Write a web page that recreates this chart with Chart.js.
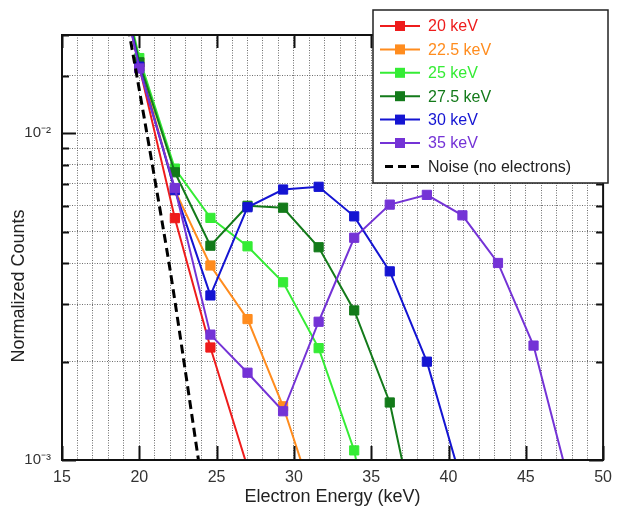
<!DOCTYPE html>
<html>
<head>
<meta charset="utf-8">
<script src="https://cdn.jsdelivr.net/npm/chart.js@4.4.1/dist/chart.umd.min.js"></script>
<style>
  html, body { margin: 0; padding: 0; background: #fff; }
  canvas { display: block; }
</style>
</head>
<body>
<canvas id="spectrumGraph" width="620" height="509"></canvas>
<script>
// Energy bins (keV); first and last bins fall outside the plotted window
const energies = [17.7, 20, 22.3, 24.6, 27.0, 29.3, 31.6, 33.9, 36.2, 38.6, 40.9, 43.2, 45.5, 47.8];

// Normalized counts per beam energy
const counts20 = [0.05, 0.0160, 0.0055, 0.00221, 0.00095];
const counts22 = [0.05, 0.0165, 0.0067, 0.00394, 0.0027, 0.00146, 0.00068];
const counts25 = [0.05, 0.0170, 0.0078, 0.00551, 0.00451, 0.0035, 0.0022, 0.00107, 0.0003];
const counts27 = [0.05, 0.0165, 0.0076, 0.00453, 0.0060, 0.00592, 0.00448, 0.00287, 0.0015, 0.00044];
const counts30 = [0.05, 0.0160, 0.0067, 0.00319, 0.00594, 0.00673, 0.00686, 0.00557, 0.00378, 0.0020, 0.00084];
const counts35 = [0.05, 0.0158, 0.0068, 0.00242, 0.00185, 0.00141, 0.00265, 0.00479, 0.00605, 0.00648, 0.00561, 0.00401, 0.00224, 0.00085];

// Noise curve (no electrons)
const noiseEnergies = [18, 20, 22, 24];
const noiseCounts = [0.046, 0.0136, 0.0038, 0.00088];

// Axis tick labels
const xTickLabels = [15, 20, 25, 30, 35, 40, 45, 50];
const yTickLabels = { '-3': '10⁻³', '-2': '10⁻²' };

const FONT = '"Liberation Sans", Arial, Helvetica, sans-serif';
const Y_MIN = 0.001, Y_MAX = 0.02;

function points(xs, ys) {
    return ys.map((y, i) => ({ x: xs[i], y: y })).filter(p => p.y != null);
}

function series(label, xs, ys, color, order) {
    return {
        label: label,
        data: points(xs, ys),
        borderColor: color,
        backgroundColor: color,
        borderWidth: 2,
        pointStyle: 'rect',
        pointRadius: ctx => {
            const v = ctx.raw ? ctx.raw.y : 0;
            return (v >= Y_MIN * 0.99 && v <= Y_MAX * 1.01) ? 6.5 : 0;
        },
        pointBorderWidth: 1,
        pointBorderColor: color,
        pointBackgroundColor: color,
        tension: 0,
        order: order
    };
}

const datasets = [
    series('20 keV', energies, counts20, '#ee1c1c', 10),
    series('22.5 keV', energies, counts22, '#ff8c1e', 9),
    series('25 keV', energies, counts25, '#35ec35', 8),
    series('27.5 keV', energies, counts27, '#137a1a', 7),
    series('30 keV', energies, counts30, '#1414d2', 6),
    series('35 keV', energies, counts35, '#7433d6', 5),
    {
        label: 'Noise (no electrons)',
        data: points(noiseEnergies, noiseCounts),
        borderColor: '#000',
        backgroundColor: '#000',
        borderWidth: 3,
        borderDash: [9, 5],
        pointRadius: 0,
        tension: 0.2,
        order: 4
    }
];

// Frame, inward tick marks, y title and the boxed legend
const framePlugin = {
    id: 'frame',
    afterDatasetsDraw(chart) {
        const { ctx, chartArea: a, scales } = chart;
        ctx.save();
        ctx.strokeStyle = '#111';
        ctx.lineWidth = 2;
        ctx.setLineDash([]);
        ctx.strokeRect(a.left, a.top, a.right - a.left, a.bottom - a.top);
        ctx.beginPath();
        xTickLabels.forEach(v => {
            const px = Math.round(scales.x.getPixelForValue(v)) + 0.5;
            ctx.moveTo(px, a.bottom); ctx.lineTo(px, a.bottom - 14);
            ctx.moveTo(px, a.top); ctx.lineTo(px, a.top + 13);
        });
        scales.y.ticks.forEach(t => {
            const major = Math.abs(Math.log10(t.value) - Math.round(Math.log10(t.value))) < 1e-6;
            const len = major ? 14 : 7;
            const py = Math.round(scales.y.getPixelForValue(t.value)) + 0.5;
            ctx.moveTo(a.left, py); ctx.lineTo(a.left + len, py);
            ctx.moveTo(a.right, py); ctx.lineTo(a.right - len, py);
        });
        ctx.stroke();

        // y axis title, sitting a little below the plot centre as in the original
        ctx.translate(19, 286);
        ctx.rotate(-Math.PI / 2);
        ctx.fillStyle = '#222';
        ctx.font = '18px ' + FONT;
        ctx.textAlign = 'center';
        ctx.textBaseline = 'middle';
        ctx.fillText('Normalized Counts', 0, 0);
        ctx.restore();
    },
    afterDraw(chart) {
        const ctx = chart.ctx;
        const box = { x: 373, y: 10, w: 235, h: 173 };
        ctx.save();
        ctx.fillStyle = '#fff';
        ctx.fillRect(box.x, box.y, box.w, box.h);
        ctx.strokeStyle = '#222';
        ctx.lineWidth = 1.5;
        ctx.strokeRect(box.x, box.y, box.w, box.h);
        ctx.font = '16px ' + FONT;
        ctx.textBaseline = 'middle';
        chart.data.datasets.forEach((ds, i) => {
            const y = 26 + i * 23.4;
            ctx.strokeStyle = ds.borderColor;
            ctx.lineWidth = ds.borderWidth;
            ctx.setLineDash(ds.borderDash ? [8, 5] : []);
            ctx.beginPath();
            ctx.moveTo(ds.borderDash ? 385 : 380, y);
            ctx.lineTo(420, y);
            ctx.stroke();
            ctx.setLineDash([]);
            if (!ds.borderDash) {
                ctx.fillStyle = ds.borderColor;
                ctx.fillRect(395, y - 5, 10, 10);
            }
            ctx.fillStyle = ds.borderDash ? '#222' : ds.borderColor;
            ctx.fillText(ds.label, 428, y + 1);
        });
        ctx.restore();
    }
};

const ctxSpectrum = document.getElementById('spectrumGraph').getContext('2d');
const spectrumGraph = new Chart(ctxSpectrum, {
    type: 'line',
    data: { datasets: datasets },
    options: {
        responsive: false,
        animation: false,
        devicePixelRatio: 1,
        events: [],
        layout: { padding: { top: 35, right: 16, left: 0, bottom: 0 } },
        plugins: {
            legend: { display: false },
            tooltip: { enabled: false }
        },
        scales: {
            x: {
                type: 'linear',
                min: 15,
                max: 50,
                afterFit: s => { s.height = 49; },
                ticks: {
                    stepSize: 1,
                    autoSkip: false,
                    maxRotation: 0,
                    padding: 8,
                    color: '#333',
                    font: { family: FONT, size: 16 },
                    callback: v => (xTickLabels.includes(v) ? String(v) : '')
                },
                grid: { color: '#6e6e6e', lineWidth: 1, drawTicks: false },
                border: { display: false, dash: [1, 1.5] },
                title: {
                    display: true,
                    text: 'Electron Energy (keV)',
                    color: '#222',
                    font: { family: FONT, size: 18 },
                    padding: { top: 0, bottom: 1 }
                }
            },
            y: {
                type: 'logarithmic',
                min: Y_MIN,
                max: Y_MAX,
                afterFit: s => { s.width = 62; },
                ticks: {
                    autoSkip: false,
                    padding: 11,
                    color: '#333',
                    font: { family: FONT, size: 15 },
                    callback: v => {
                        const e = Math.log10(v);
                        return Math.abs(e - Math.round(e)) < 1e-6 ? (yTickLabels[String(Math.round(e))] || '') : '';
                    }
                },
                grid: { color: '#6e6e6e', lineWidth: 1, drawTicks: false },
                border: { display: false, dash: [1, 1.5] },
                title: { display: false }
            }
        }
    },
    plugins: [framePlugin]
});
</script>
</body>
</html>
